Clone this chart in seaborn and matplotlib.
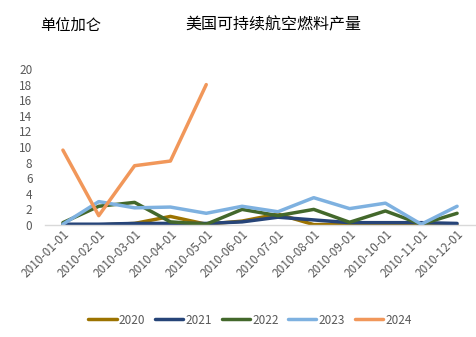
import matplotlib
matplotlib.use("Agg")
import matplotlib.pyplot as plt
import seaborn as sns
import numpy as np
import pandas as pd

months = ["2010-01-01", "2010-02-01", "2010-03-01", "2010-04-01", "2010-05-01", "2010-06-01",
          "2010-07-01", "2010-08-01", "2010-09-01", "2010-10-01", "2010-11-01", "2010-12-01"]
years = ["2020", "2021", "2022", "2023", "2024"]
v2020 = [0.0, 0.0, 0.2, 1.1, 0.1, 0.5, 1.4, 0.05, 0.1, 0.1, 0.0, 0.0]
v2021 = [0.1, 0.1, 0.2, 0.2, 0.2, 0.4, 1.0, 0.65, 0.3, 0.3, 0.3, 0.2]
v2022 = [0.3, 2.4, 2.9, 0.4, 0.1, 2.0, 1.2, 2.0, 0.35, 1.8, 0.1, 1.5]
v2023 = [0.1, 3.0, 2.2, 2.3, 1.5, 2.4, 1.7, 3.5, 2.1, 2.8, 0.1, 2.4]
v2024 = [9.6, 1.2, 7.6, 8.2, 18.0, np.nan, np.nan, np.nan, np.nan, np.nan, np.nan, np.nan]
colors = ["#9C7300", "#264478", "#43682B", "#7EB1E0", "#F1975A"]
title = "美国可持续航空燃料产量"
unit = "单位加仑"

rows = []
for y, vals in zip(years, [v2020, v2021, v2022, v2023, v2024]):
    for m, v in zip(months, vals):
        rows.append({"month": m, "year": y, "value": v})
df = pd.DataFrame(rows)

sns.set_theme(style="white")
plt.rcParams["font.family"] = ["Noto Sans CJK SC", "DejaVu Sans"]

fig = plt.figure(figsize=(4.76, 3.37), dpi=100)
ax = fig.add_axes([45/476, 112/337, 430/476, 156/337])
sns.lineplot(data=df, x="month", y="value", hue="year", hue_order=years,
             palette=colors, linewidth=2.5, ax=ax, sort=False, legend=True)

ax.set_xlim(-0.5, 11.5)
ax.set_ylim(0, 20)
ax.set_yticks(range(0, 21, 2))
ax.set_xlabel("")
ax.set_ylabel("")
for s in ["top", "right", "left"]:
    ax.spines[s].set_visible(False)
ax.spines["bottom"].set_color("#D9D9D9")
ax.spines["bottom"].set_linewidth(1)
ax.tick_params(axis="y", length=0, pad=9, labelsize=8.5, labelcolor="#595959")
ax.tick_params(axis="x", length=0, pad=2, labelsize=8.5, labelcolor="#595959")
for lab in ax.get_xticklabels():
    lab.set_rotation(45)
    lab.set_ha("right")
    lab.set_rotation_mode("anchor")

fig.text(40/476, 1 - 25/337, unit, fontsize=11, color="#000000", va="center", ha="left")
fig.text(273/476, 1 - 25/337, title, fontsize=11.5, color="#000000", va="center", ha="center")

handles, labels = ax.get_legend_handles_labels()
ax.legend(handles, labels, loc="center", bbox_to_anchor=(250/476, 1 - 320/337),
          bbox_transform=fig.transFigure, ncol=5, frameon=False, fontsize=8.5,
          handlelength=2.4, columnspacing=0.8, handletextpad=0.2,
          labelcolor="#595959")

fig.savefig("out.png", dpi=100)
